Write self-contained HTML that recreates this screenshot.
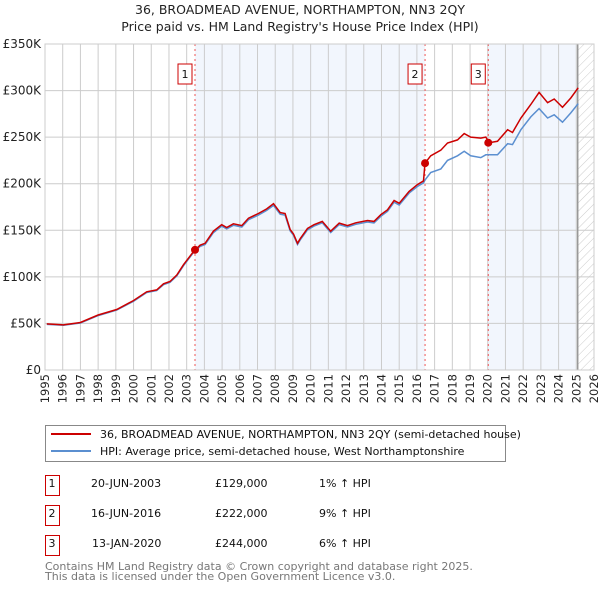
<!DOCTYPE html>
<html><head><meta charset="utf-8"><style>
body{margin:0;background:#fff;}
svg text{font-family:"DejaVu Sans","Liberation Sans",sans-serif;}
</style></head><body>
<svg width="600" height="590" xmlns="http://www.w3.org/2000/svg">
<defs><pattern id="hatch" width="6" height="6" patternUnits="userSpaceOnUse" patternTransform="rotate(45)"><line x1="0" y1="0" x2="0" y2="6" stroke="#ccc" stroke-width="1"/></pattern></defs>
<text x="300" y="14" text-anchor="middle" font-size="12.5" fill="#222">36, BROADMEAD AVENUE, NORTHAMPTON, NN3 2QY</text>
<text x="300" y="31" text-anchor="middle" font-size="12.5" fill="#222">Price paid vs. HM Land Registry's House Price Index (HPI)</text>
<g id="plot"></g>
<g>
<rect x="45.5" y="425.5" width="460" height="36" fill="#fff" stroke="#888"/>
<line x1="51" y1="434" x2="91" y2="434" stroke="#cc0000" stroke-width="2"/>
<text x="100" y="438" font-size="11" fill="#111">36, BROADMEAD AVENUE, NORTHAMPTON, NN3 2QY (semi-detached house)</text>
<line x1="51" y1="451" x2="91" y2="451" stroke="#5b8fd0" stroke-width="2"/>
<text x="100" y="455" font-size="11" fill="#111">HPI: Average price, semi-detached house, West Northamptonshire</text>
</g>
<g font-size="11" fill="#111">
<rect x="45.5" y="475.5" width="14" height="20" fill="#fff" stroke="#cc0000"/><text x="52" y="487" text-anchor="middle">1</text>
<text x="91" y="487">20-JUN-2003</text><text x="215" y="487">£129,000</text><text x="319" y="487">1% ↑ HPI</text>
<rect x="45.5" y="505.5" width="14" height="20" fill="#fff" stroke="#cc0000"/><text x="52" y="517" text-anchor="middle">2</text>
<text x="91" y="517">16-JUN-2016</text><text x="215" y="517">£222,000</text><text x="319" y="517">9% ↑ HPI</text>
<rect x="45.5" y="535.5" width="14" height="20" fill="#fff" stroke="#cc0000"/><text x="52" y="547" text-anchor="middle">3</text>
<text x="92" y="547">13-JAN-2020</text><text x="215" y="547">£244,000</text><text x="319" y="547">6% ↑ HPI</text>
</g>
<text x="45" y="570" font-size="11" fill="#777">Contains HM Land Registry data © Crown copyright and database right 2025.</text>
<text x="45" y="580" font-size="11" fill="#777">This data is licensed under the Open Government Licence v3.0.</text>
</svg>
<script>
const times=[1995.1,1996.04,1997.0,1998.0,1999.05,1999.99,2000.74,2001.31,2001.69,2002.06,2002.44,2002.82,2003.38,2003.76,2004.04,2004.51,2004.98,2005.26,2005.64,2006.11,2006.49,2007.05,2007.52,2007.9,2008.28,2008.56,2008.84,2009.03,2009.26,2009.41,2009.82,2010.19,2010.66,2011.13,2011.61,2012.08,2012.55,2013.21,2013.58,2013.96,2014.34,2014.71,2015.0,2015.56,2016.03,2016.37,2016.46,2016.78,2017.35,2017.73,2018.29,2018.67,2019.04,2019.61,2019.89,2020.08,2020.55,2021.12,2021.4,2021.87,2022.43,2022.9,2023.38,2023.75,2024.22,2024.69,2025.11];
const priceSeries=[49.5,48.4,51,59,65,74.5,84,86,92.5,95,102,113,127,134,136,149,156,153,157,155,163,168,173,178.5,169,168,151,146,136,141,152,156,159.5,149,157.7,155,158,160.5,159.5,166.7,172,182,179,191.8,199,203,222,230,236,243.7,247,253.8,250,249,250,244,245.5,258,255,270.6,285,298,287,291,282,292,303];
const hpiSeries=[49,48,50.5,58.4,64.3,73.8,83.2,85.2,91.6,94,101,112,126,132.7,134.7,147.5,154.5,151.5,155.4,153.5,161.4,166.3,171.3,176.7,167.3,166.3,149.5,144.6,134.7,139.6,150.5,154.5,158,147.5,156.1,153.5,156.4,158.9,157.9,165,170.3,180.2,177.2,189.9,197,201,204,212,215.8,225,230,234.8,230,228,231,231,231,243,242,258,271.7,280.6,270.6,274,266,276,286];
const yTicks=[0,50,100,150,200,250,300,350];
const yTickLabels=["£0","£50K","£100K","£150K","£200K","£250K","£300K","£350K"];
const xYears=[1995,1996,1997,1998,1999,2000,2001,2002,2003,2004,2005,2006,2007,2008,2009,2010,2011,2012,2013,2014,2015,2016,2017,2018,2019,2020,2021,2022,2023,2024,2025,2026];
const saleTimes=[2003.47,2016.46,2020.03];
const salePrices=[129,222,244];
const saleLabels=["1","2","3"];
const dataEnd=2025.08;

const NS="http://www.w3.org/2000/svg";
const L=45,R=594,T=44,B=370;
const xs=t=>L+(t-1995)/(2026-1995)*(R-L);
const ys=v=>B-v/350*(B-T);
const g=document.getElementById('plot');
function mk(tag,a){const e=document.createElementNS(NS,tag);for(const k in a)e.setAttribute(k,a[k]);g.appendChild(e);return e;}
let e;
e=mk('rect',{x:xs(saleTimes[0]),y:T,width:xs(saleTimes[1])-xs(saleTimes[0]),height:B-T,fill:'#f2f6fd'});


e=mk('rect',{x:xs(saleTimes[2]),y:T,width:xs(dataEnd)-xs(saleTimes[2]),height:B-T,fill:'#f2f6fd'});


e=mk('rect',{x:xs(dataEnd),y:T,width:R-xs(dataEnd),height:B-T,fill:'url(#hatch)'});


xYears.forEach(y=>{e=mk('line',{x1:xs(y),x2:xs(y),y1:T,y2:B,stroke:'#cccccc'});


const tx=xs(y)+4,ty=B+4;
e=mk('text',{x:tx,y:ty,'text-anchor':'end','font-size':11.5,fill:'#222',transform:'rotate(-90 '+tx+' '+ty+')'});e.textContent=y;

});
yTicks.forEach((v,i)=>{e=mk('line',{x1:L,x2:R,y1:ys(v),y2:ys(v),stroke:'#cccccc'});


e=mk('text',{x:L-4,y:ys(v)+4,'text-anchor':'end','font-size':12,fill:'#222'});e.textContent=yTickLabels[i];

});
e=mk('line',{x1:xs(dataEnd),x2:xs(dataEnd),y1:T,y2:B,stroke:'#999','stroke-width':1.5});


saleTimes.forEach((t,i)=>{e=mk('line',{x1:xs(t),x2:xs(t),y1:T,y2:B,stroke:'#ee5555','stroke-dasharray':'2,3'});


e=mk('rect',{x:xs(t)-17,y:64,width:14,height:20,fill:'#fff',stroke:'#cc0000'});


e=mk('text',{x:xs(t)-10,y:78,'text-anchor':'middle','font-size':11,fill:'#111'});e.textContent=saleLabels[i];

});
function pts(arr){return times.map((t,i)=>xs(t).toFixed(1)+','+ys(arr[i]).toFixed(1)).join(' ');}
e=mk('polyline',{points:pts(hpiSeries),fill:'none',stroke:'#5b8fd0','stroke-width':1.5});


e=mk('polyline',{points:pts(priceSeries),fill:'none',stroke:'#cc0000','stroke-width':1.5});


saleTimes.forEach((t,i)=>{e=mk('circle',{cx:xs(t),cy:ys(salePrices[i]),r:4,fill:'#cc0000'});

});
e=mk('rect',{x:L,y:T,width:R-L,height:B-T,fill:'none',stroke:'#cccccc'});


</script>
</body></html>
